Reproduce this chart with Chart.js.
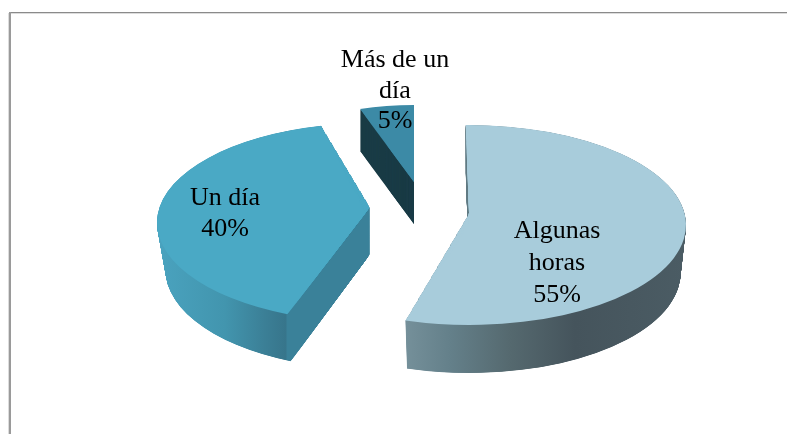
<!DOCTYPE html>
<html><head><meta charset="utf-8">
<style>html,body{margin:0;padding:0;background:#fff}canvas{display:block}</style>
<script src="https://cdn.jsdelivr.net/npm/chart.js@4"></script>
</head><body>
<canvas id="c" width="787" height="434"></canvas>
<script>
const categories = ['Algunas horas', 'Un día', 'Más de un día'];
const values = [55, 40, 5];
const labelLines = [['Algunas', 'horas', '55%'], ['Un día', '40%'], ['Más de un', 'día', '5%']];
const topColors = ['#a8ccdb', '#4aa9c5', '#3c8aa6'];

// 3D look (styling only)
const PIE = {x: 415, y: 222};
const explodeX = [54, -45, -1], explodeY = [3, 0.6, -35];
const radX = [217, 213, 175], radY = [100, 99.4, 82];
const tilt = [0.5, 6.2, 1.4], lift = [12, 15.6, 5];
const depth = [48, 47, 42], shrink = [0.975, 0.96, 1];
const sidePaint = [
  [[405,'#75909a'],[450,'#64808a'],[510,'#55696f'],[575,'#45545c'],[686,'#4b5c64']],
  [[157,'#4aa3bf'],[225,'#4295ae'],[265,'#3b7f96'],[286,'#37758b'],[287,'#3a8199'],[372,'#3a8199']],
  '#1a3c46'
];
const labelX = [557, 225, 395];
const labelY = [[238, 270, 302], [205, 236], [67, 98, 128]];
const fillSteps = [10, 10, 2], layersPerPx = [4, 4, 1];

function paint(ctx, arc, p, spec) {
  if (typeof spec === 'string') return spec;
  const X0 = spec[0][0], X1 = spec[spec.length - 1][0];
  const c = Math.cos(p.rot), s = Math.sin(p.rot);
  const gx = p.sa * c / (X1 - X0), gy = -p.sa * s / (X1 - X0), n = gx * gx + gy * gy;
  const x0 = arc.x + (X0 - p.cx) / (p.sa * c), y0 = arc.y;
  const g = ctx.createLinearGradient(x0, y0, x0 + gx / n, y0 + gy / n);
  spec.forEach(st => g.addColorStop((st[0] - X0) / (X1 - X0), st[1]));
  return g;
}
function drawWith(ctx, arc, p, spec) {
  ctx.save();
  ctx.translate(p.cx, p.cy); ctx.scale(p.sa, p.sb); ctx.rotate(p.rot); ctx.translate(-arc.x, -arc.y);
  const opts = Object.create(arc.options, {backgroundColor: {value: paint(ctx, arc, p, spec)}});
  const view = Object.create(arc, {options: {value: opts}, pixelMargin: {value: 0, writable: true}, fullCircles: {value: 0, writable: true}});
  arc.draw.call(view, ctx);
  ctx.restore();
}
function drawFace(ctx, arc, i, t, spec) {
  const R = arc.outerRadius, f = 1 - (1 - shrink[i]) * t;
  const p = {cx: PIE.x + explodeX[i], cy: PIE.y + explodeY[i] + depth[i] * t,
             sa: radX[i] * f / R, sb: radY[i] / R, rot: tilt[i] * Math.PI / 180};
  const pt = a => [p.cx + p.sa * R * Math.cos(a + p.rot), p.cy + p.sb * R * Math.sin(a + p.rot)];
  const A = [p.cx, p.cy - lift[i]], k = 4;
  ctx.save();
  ctx.beginPath(); ctx.moveTo(A[0], A[1]);
  [arc.startAngle, (arc.startAngle + arc.endAngle) / 2, arc.endAngle].forEach(a => {
    const q = pt(a); ctx.lineTo(A[0] + k * (q[0] - A[0]), A[1] + k * (q[1] - A[1]));
  });
  ctx.closePath(); ctx.clip();
  for (let n = 1; n <= fillSteps[i]; n++) {
    const s = n / fillSteps[i];
    drawWith(ctx, arc, {cx: p.cx, cy: A[1] + s * lift[i], sa: p.sa * s, sb: p.sb * s, rot: p.rot}, spec);
  }
  ctx.restore();
}
const pie3d = {
  id: 'pie3d',
  beforeDraw(chart) {
    const ctx = chart.ctx;
    ctx.save();
    ctx.fillStyle = '#fff'; ctx.fillRect(0, 0, 787, 434);
    ctx.fillStyle = '#dcdcdc'; ctx.fillRect(11, 13, 776, 1); ctx.fillRect(8, 13, 1, 421);
    ctx.fillStyle = '#8a8a8a'; ctx.fillRect(9, 12, 778, 1);
    ctx.fillStyle = '#9a9a9a'; ctx.fillRect(9, 12, 2, 422);
    ctx.restore();
  },
  beforeDatasetsDraw(chart) {
    const ctx = chart.ctx, arcs = chart.getDatasetMeta(0).data;
    [2, 1, 0].forEach(i => {
      const n = Math.round(depth[i] * layersPerPx[i]);
      for (let d = n; d >= 1; d--) drawFace(ctx, arcs[i], i, d / n, sidePaint[i]);
      drawFace(ctx, arcs[i], i, 0, topColors[i]);
    });
    return false;
  },
  afterDraw(chart) {
    const ctx = chart.ctx;
    ctx.save();
    ctx.font = '26px "Liberation Serif"';
    ctx.fillStyle = '#000'; ctx.textAlign = 'center'; ctx.textBaseline = 'alphabetic';
    labelLines.forEach((lines, i) => lines.forEach((s, j) => ctx.fillText(s, labelX[i], labelY[i][j])));
    ctx.restore();
  }
};
new Chart(document.getElementById('c'), {
  type: 'pie',
  data: {labels: categories, datasets: [{data: values, backgroundColor: topColors, borderWidth: 0}]},
  options: {responsive: false, animation: false, rotation: -1.4,
    plugins: {legend: {display: false}, tooltip: {enabled: false}}, events: []},
  plugins: [pie3d]
});
</script>
</body></html>
